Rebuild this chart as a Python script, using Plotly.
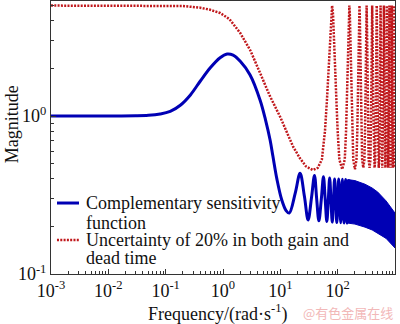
import plotly.graph_objects as go

# Complementary sensitivity |T(jw)|
t_freq = [0.001, 0.01, 0.03, 0.05, 0.08, 0.12, 0.18, 0.27, 0.4, 0.6, 0.89, 1.18, 1.5,
          2.0, 2.97, 4.44, 5.5, 6.63, 7.4, 8.7, 10.6, 12.6, 14.3, 18.2, 22.1, 26.3,
          30.5, 35.0, 39.4, 43.0, 47.0, 52.0, 56.5, 60.5, 64.7, 68.5, 72.5, 76.5,
          80.5, 84.5, 88.5, 92.5, 96.5, 100.5, 104.5, 113.0, 121.0, 129.0, 137.0,
          145.0, 153.0]
t_mag = [1.0, 1.0, 1.003, 1.01, 1.03, 1.07, 1.17, 1.36, 1.66, 2.02, 2.34, 2.47, 2.43,
         2.22, 1.82, 1.26, 0.95, 0.705, 0.56, 0.40, 0.294, 0.252, 0.243, 0.325, 0.434,
         0.31, 0.22, 0.305, 0.42, 0.30, 0.217, 0.30, 0.413, 0.30, 0.215, 0.29, 0.405,
         0.29, 0.213, 0.29, 0.40, 0.29, 0.212, 0.29, 0.40, 0.211, 0.398, 0.21, 0.397,
         0.21, 0.396]

# Envelope of the densely oscillating high-frequency part of |T(jw)|
band_freq = [150, 200, 300, 400, 500, 700, 1000]
band_upper = [0.396, 0.39, 0.37, 0.35, 0.33, 0.29, 0.243]
band_lower = [0.21, 0.207, 0.198, 0.19, 0.182, 0.168, 0.146]

# Inverse of the multiplicative uncertainty weight (20% gain + dead time)
u_freq = [0.001, 0.1, 0.2, 0.4, 0.6, 0.89, 1.3, 2.0, 3.0, 4.44, 6.5, 9.9, 13, 16.7,
          22, 28, 37, 45, 53, 60, 65, 70, 74, 77, 80,
          83, 86, 90, 95, 100, 107, 120, 133, 140, 145, 150, 154, 157, 160,
          163, 166, 170, 175, 180, 187, 200, 213, 220, 225, 230, 234, 237, 240,
          243, 246, 250, 255, 260, 267, 280, 293, 300, 305, 310, 314, 317, 320,
          326, 335, 347, 360, 373, 385, 394, 400,
          406, 415, 427, 440, 453, 465, 474, 480,
          486, 495, 507, 520, 533, 545, 554, 560,
          566, 575, 600, 625, 634, 640,
          646, 655, 680, 705, 714, 720,
          726, 735, 760, 785, 794, 800,
          806, 815, 840, 865, 874, 880,
          886, 895, 920, 945, 954, 960,
          966, 975, 1000]
u_mag = [5.0, 5.0, 4.97, 4.85, 4.7, 4.49, 4.1, 3.35, 2.6, 1.87, 1.35, 0.99, 0.78, 0.64,
         0.54, 0.48, 0.455, 0.47, 0.53, 0.8, 1.26, 2.1, 3.35, 4.4, 5.0,
         4.4, 3.35, 2.1, 1.26, 0.8, 0.53, 0.46, 0.53, 0.8, 1.26, 2.1, 3.35, 4.4, 5.0,
         4.4, 3.35, 2.1, 1.26, 0.8, 0.53, 0.46, 0.53, 0.8, 1.26, 2.1, 3.35, 4.4, 5.0,
         4.4, 3.35, 2.1, 1.26, 0.8, 0.53, 0.47, 0.53, 0.8, 1.26, 2.1, 3.35, 4.4, 5.0,
         3.35, 1.26, 0.53, 0.47, 0.53, 1.26, 3.35, 5.0,
         3.35, 1.26, 0.53, 0.47, 0.53, 1.26, 3.35, 5.0,
         3.35, 1.26, 0.53, 0.47, 0.53, 1.26, 3.35, 5.0,
         3.35, 1.26, 0.47, 1.26, 3.35, 5.0,
         3.35, 1.26, 0.47, 1.26, 3.35, 5.0,
         3.35, 1.26, 0.47, 1.26, 3.35, 5.0,
         3.35, 1.26, 0.47, 1.26, 3.35, 5.0,
         3.35, 1.26, 0.47, 1.26, 3.35, 5.0,
         3.35, 1.26, 0.47]

x_tick_vals = [1e-3, 1e-2, 1e-1, 1e0, 1e1, 1e2, 1e3]
x_tick_text = ["10<sup>-3</sup>", "10<sup>-2</sup>", "10<sup>-1</sup>", "10<sup>0</sup>",
               "10<sup>1</sup>", "10<sup>2</sup>", "10<sup>3</sup>"]
y_tick_vals = [1e-1, 1e0]
y_tick_text = ["10<sup>-1</sup>", "10<sup>0</sup>"]

# Legend entries: label lines for each curve
legend_lines_t = ["Complementary sensitivity", "function"]
legend_lines_u = ["Uncertainty of 20% in both gain and", "dead time"]

BLUE = "#0000b4"
RED = "#c0181c"
RED_DASH = "2px,1.3px"
SERIF = "Liberation Serif, Times New Roman, serif"
INK = "#111111"

fig = go.Figure()

fig.add_trace(go.Scatter(
    x=band_freq + band_freq[::-1],
    y=band_upper + band_lower[::-1],
    mode="lines", fill="toself", fillcolor=BLUE,
    line=dict(color=BLUE, width=1), showlegend=False, hoverinfo="skip"))

fig.add_trace(go.Scatter(
    x=t_freq, y=t_mag, mode="lines",
    line=dict(color=BLUE, width=3, shape="spline", smoothing=1),
    name=" ".join(legend_lines_t), showlegend=False))

fig.add_trace(go.Scatter(
    x=u_freq, y=u_mag, mode="lines",
    line=dict(color=RED, width=2.5, dash=RED_DASH),
    name=" ".join(legend_lines_u), showlegend=False))

minor_x = [m * 10.0 ** e for e in range(-3, 3) for m in range(2, 10)]
minor_y = [m * 10.0 ** e for e in range(-1, 1) for m in range(2, 10)]

axis_common = dict(
    type="log", showgrid=False, zeroline=False,
    showline=True, linecolor="#333333", linewidth=1, mirror=True,
    ticks="inside", ticklen=5, tickcolor="#333333", tickmode="array",
    tickfont=dict(family=SERIF, size=18, color=INK),
)

fig.update_xaxes(
    **axis_common, range=[-3, 3], tickvals=x_tick_vals, ticktext=x_tick_text,
    minor=dict(tickmode="array", tickvals=minor_x, ticks="inside", ticklen=3,
               tickcolor="#333333"),
)
fig.update_yaxes(
    **axis_common, range=[-1, 0.728], tickvals=y_tick_vals, ticktext=y_tick_text,
    minor=dict(tickmode="array", tickvals=minor_y, ticks="inside", ticklen=3,
               tickcolor="#333333"),
)

# Axis titles
fig.add_annotation(
    text="Frequency/(rad·s<sup>-1</sup>)", xref="paper", yref="paper",
    x=0.483, y=-0.143, xanchor="center", yanchor="middle", showarrow=False,
    borderpad=0, font=dict(family=SERIF, size=18, color=INK))
fig.add_annotation(
    text="Magnitude", textangle=-90, xref="paper", yref="paper",
    x=-0.115, y=0.55, xanchor="center", yanchor="middle", showarrow=False,
    font=dict(family=SERIF, size=18, color=INK))

# Legend drawn inside the lower-left corner of the axes
legend_x_sample = (0.0174, 0.0814)
legend_x_text = 0.0988
legend_rows = [
    (legend_lines_t[0], 0.260, BLUE, "solid", 3),
    (legend_lines_t[1], 0.187, None, None, 0),
    (legend_lines_u[0], 0.1245, RED, RED_DASH, 2.5),
    (legend_lines_u[1], 0.059, None, None, 0),
]
for text, y, color, dash, width in legend_rows:
    fig.add_annotation(
        text=text, xref="paper", yref="paper", x=legend_x_text, y=y,
        xanchor="left", yanchor="middle", showarrow=False, borderpad=0,
        font=dict(family=SERIF, size=18, color=INK))
    if color is not None:
        fig.add_shape(
            type="line", xref="paper", yref="paper",
            x0=legend_x_sample[0], x1=legend_x_sample[1], y0=y, y1=y,
            line=dict(color=color, width=width, dash=dash))

fig.add_annotation(
    text="@有色金属在线", xref="paper", yref="paper", x=1.0, y=-0.14,
    xanchor="right", yanchor="middle", showarrow=False,
    font=dict(family="Noto Sans CJK SC", size=13, color="#f2b8b8"))

fig.update_layout(
    width=400, height=324,
    margin=dict(l=51, r=5, t=1, b=50),
    paper_bgcolor="white", plot_bgcolor="white",
    showlegend=False,
)

fig.write_html("out.html")
